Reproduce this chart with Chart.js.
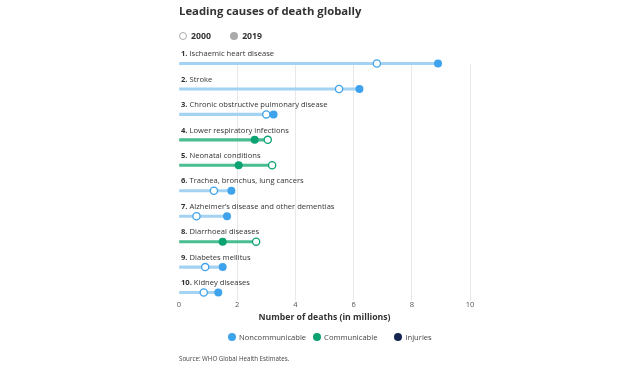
<!DOCTYPE html>
<html>
<head>
<meta charset="utf-8">
<script src="https://cdn.jsdelivr.net/npm/chart.js@4.4.0/dist/chart.umd.min.js"></script>
<style>
    body { margin: 0; background: #fff; font-family: 'Open Sans', sans-serif; color: #333; }
    #wrap { position: relative; width: 620px; height: 368px; overflow: hidden; }
    #chart { position: absolute; left: 0; top: 0; }
    .title { position: absolute; left: 179px; top: 3px; font-size: 11.3px; font-weight: 700; color: #333; }
    .toplegend { position: absolute; left: 179px; top: 29px; font-size: 8.7px; font-weight: 700; color: #333; }
    .toplegend span { display: inline-block; vertical-align: middle; }
    .dot { width: 8px; height: 8px; border-radius: 50%; margin-right: 4px; box-sizing: border-box; }
    .botlegend { position: absolute; left: 228px; top: 331px; font-size: 7.6px; color: #444; }
    .botlegend span { display: inline-block; vertical-align: middle; }
    .botlegend .dot { margin-right: 3px; }
    .source { position: absolute; left: 179px; top: 354px; font-size: 6.2px; color: #444; }
</style>
</head>
<body>
<div id="wrap">
    <canvas id="chart" width="620" height="368"></canvas>
    <div class="title">Leading causes of death globally</div>
    <div class="toplegend">
        <span class="dot" style="border:1px solid #aaa;background:#fff"></span><span style="margin-right:17px">2000</span>
        <span class="dot" style="background:#aaa"></span><span>2019</span>
    </div>
    <div class="botlegend">
        <span class="dot" style="background:#3ea3ec"></span><span style="margin-right:5px">Noncommunicable</span>
        <span class="dot" style="background:#0ca272"></span><span style="margin-right:15px">Communicable</span>
        <span class="dot" style="background:#15254f"></span><span>Injuries</span>
    </div>
    <div class="source">Source: WHO Global Health Estimates.</div>
</div>
<script>
const causes = [
    'Ischaemic heart disease',
    'Stroke',
    'Chronic obstructive pulmonary disease',
    'Lower respiratory infections',
    'Neonatal conditions',
    'Trachea, bronchus, lung cancers',
    'Alzheimer\u2019s disease and other dementias',
    'Diarrhoeal diseases',
    'Diabetes mellitus',
    'Kidney diseases'
];
const deaths2000 = [6.8, 5.5, 3.0, 3.05, 3.2, 1.2, 0.6, 2.65, 0.9, 0.85];
const deaths2019 = [8.9, 6.2, 3.25, 2.6, 2.05, 1.8, 1.65, 1.5, 1.5, 1.35];
const causeType = ['N', 'N', 'N', 'C', 'C', 'N', 'N', 'C', 'N', 'N'];
const xTicks = [0, 2, 4, 6, 8, 10];

const dotColor = { N: '#3ea3ec', C: '#0ca272', I: '#15254f' };
const lineColor = { N: '#a3d2f3', C: '#47bd90', I: '#6f7a99' };

const lineLength = deaths2000.map((v, i) => Math.max(v, deaths2019[i]));

// row captions sit just above each line
const rowLabels = {
    id: 'rowLabels',
    afterDatasetsDraw(chart) {
        const ctx = chart.ctx;
        const y = chart.scales.y;
        const left = chart.chartArea.left + 2;
        ctx.save();
        ctx.textBaseline = 'middle';
        ctx.fillStyle = '#333';
        causes.forEach((name, i) => {
            const py = y.getPixelForValue(i) - 9.5;
            const num = (i + 1) + '. ';
            ctx.font = '700 7.6px "Open Sans"';
            ctx.fillText(num, left, py);
            const w = ctx.measureText(num).width;
            ctx.font = '400 7.6px "Open Sans"';
            ctx.fillText(name, left + w, py);
        });
        ctx.restore();
    }
};

new Chart(document.getElementById('chart'), {
    type: 'bar',
    data: {
        labels: causes,
        datasets: [
            {
                type: 'line',
                label: '2019',
                data: deaths2019,
                showLine: false,
                pointRadius: 4,
                pointBorderWidth: 0,
                pointBackgroundColor: causeType.map(t => dotColor[t]),
                pointBorderColor: causeType.map(t => dotColor[t]),
                clip: false,
                order: 0
            },
            {
                type: 'line',
                label: '2000',
                data: deaths2000,
                showLine: false,
                pointRadius: 3.6,
                pointBorderWidth: 1.3,
                pointBackgroundColor: '#fff',
                pointBorderColor: causeType.map(t => dotColor[t]),
                clip: false,
                order: 1
            },
            {
                label: 'range',
                data: lineLength,
                backgroundColor: causeType.map(t => lineColor[t]),
                barThickness: 2.4,
                clip: false,
                order: 2
            }
        ]
    },
    options: {
        indexAxis: 'y',
        responsive: false,
        animation: false,
        layout: { padding: { left: 179, right: 150, top: 63.5, bottom: 45 } },
        plugins: { legend: { display: false }, tooltip: { enabled: false } },
        scales: {
            y: {
                type: 'category',
                offset: false,
                display: false
            },
            x: {
                type: 'linear',
                min: 0,
                max: 10,
                afterBuildTicks: axis => { axis.ticks = xTicks.map(v => ({ value: v })); },
                grid: {
                    color: ctx => ctx.tick && ctx.tick.value === 0 ? 'rgba(0,0,0,0)' : '#e8e8e8',
                    tickLength: 8
                },
                border: { display: false },
                ticks: { color: '#555', font: { family: 'Open Sans', size: 7.5 }, padding: 0 },
                title: {
                    display: true,
                    text: 'Number of deaths (in millions)',
                    color: '#333',
                    font: { family: 'Open Sans', size: 8.7, weight: '700' },
                    padding: { top: 3, bottom: 0 }
                }
            }
        }
    },
    plugins: [rowLabels]
});
</script>
</body>
</html>
